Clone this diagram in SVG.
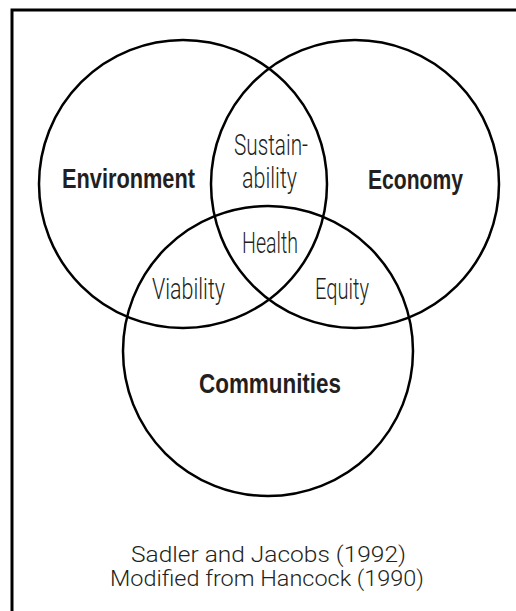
<svg xmlns="http://www.w3.org/2000/svg" width="516" height="611" viewBox="0 0 516 611">
  <style>
    .ring { fill: none; stroke: #000; stroke-width: 2.5; }
    .frame { fill: none; stroke: #000; stroke-width: 3; }
    .main { font-family: "Liberation Sans", Arial, sans-serif; font-weight: bold; font-size: 28px; fill: #231f20; text-anchor: middle; }
    .zone { font-family: Roboto, "Liberation Sans", Arial, sans-serif; font-weight: 300; font-size: 29px; fill: #231f20; text-anchor: middle; }
    .note { font-family: Roboto, "Liberation Sans", Arial, sans-serif; font-weight: 300; font-size: 22px; fill: #231f20; text-anchor: middle; }
  </style>
  <rect width="516" height="611" fill="#fff"/>
  <!-- frame: only top and left edges fall inside the canvas -->
  <path class="frame" d="M12,611 V10 H516"/>

  <g id="environment">
    <circle class="ring" cx="183" cy="184" r="144"/>
    <text class="main" x="128.5" y="188" textLength="133" lengthAdjust="spacingAndGlyphs">Environment</text>
  </g>
  <g id="economy">
    <circle class="ring" cx="355" cy="184" r="144"/>
    <text class="main" x="415.5" y="189" textLength="95" lengthAdjust="spacingAndGlyphs">Economy</text>
  </g>
  <g id="communities">
    <circle class="ring" cx="268" cy="351" r="145"/>
    <text class="main" x="270" y="393" textLength="142" lengthAdjust="spacingAndGlyphs">Communities</text>
  </g>

  <g id="overlaps">
    <text class="zone" x="271" y="155" textLength="74" lengthAdjust="spacingAndGlyphs">Sustain-</text>
    <text class="zone" x="269.5" y="188" textLength="55" lengthAdjust="spacingAndGlyphs">ability</text>
    <text class="zone" x="270" y="253" textLength="56" lengthAdjust="spacingAndGlyphs">Health</text>
    <text class="zone" x="188.5" y="299" textLength="73" lengthAdjust="spacingAndGlyphs">Viability</text>
    <text class="zone" x="342" y="299" textLength="54" lengthAdjust="spacingAndGlyphs">Equity</text>
  </g>

  <g id="connectors"/>

  <g id="caption">
    <text class="note" x="268.5" y="562" textLength="275" lengthAdjust="spacingAndGlyphs">Sadler and Jacobs (1992)</text>
    <text class="note" x="267" y="586" textLength="314" lengthAdjust="spacingAndGlyphs">Modified from Hancock (1990)</text>
  </g>
</svg>
